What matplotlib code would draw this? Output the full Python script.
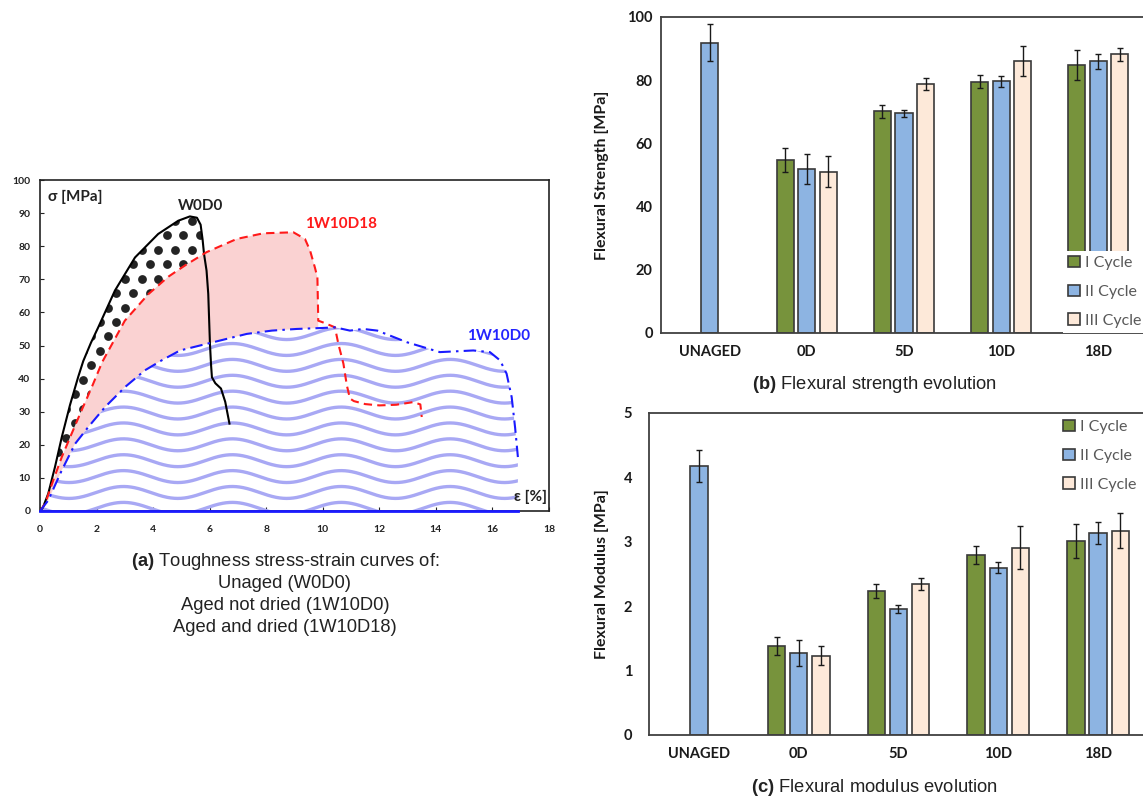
import numpy as np
import matplotlib
matplotlib.use("Agg")
import matplotlib.pyplot as plt
from matplotlib.patches import Polygon, Patch

plt.rcParams["font.family"] = ["Lato", "DejaVu Sans"]
plt.rcParams["mathtext.fontset"] = "custom"
plt.rcParams["mathtext.rm"] = "Liberation Sans"
plt.rcParams["mathtext.bf"] = "Liberation Sans:bold"

# ---- (a) stress-strain curves ----
w0d0_eps = [0, 0.1, 0.29, 0.53, 0.77, 1.06, 1.35, 1.53, 1.8, 2.06, 2.65, 3.36, 4.18, 4.89,
            5.3, 5.55, 5.68, 5.75, 5.8, 5.89, 5.95, 6.01, 6.05, 6.08, 6.2, 6.4, 6.55, 6.7]
w0d0_sig = [0, 1.0, 5.2, 13.3, 22.3, 32.0, 40.5, 45.3, 50.8, 55.5, 66.6, 76.6, 83.7, 87.7,
            89, 88.6, 86.5, 82, 77.7, 72.6, 65.6, 50.5, 44, 40.4, 38.6, 37, 33, 26.4]

d18_eps = [0, 0.18, 0.47, 0.77, 1.12, 1.47, 1.83, 2.2, 3.0, 3.83, 4.54, 5.13, 5.89, 6.96,
           7.9, 8.96, 9.37, 9.55, 9.72, 9.81, 9.84, 10.0, 10.43, 10.55, 10.73, 10.85,
           10.96, 11.1, 11.5, 12.0, 12.6, 13.2, 13.45, 13.5]
d18_sig = [0, 2.2, 9.3, 16.3, 23.4, 30.4, 37.4, 45, 57.5, 65.5, 70.8, 74.2, 78.2, 82.2,
           83.9, 84.2, 82.2, 78.7, 73.6, 70.6, 57.5, 57, 55.5, 50.5, 44.5, 38,
           34, 33.2, 32.3, 31.9, 32.1, 32.9, 32.2, 28.4]

d0_eps = [0, 0.29, 0.77, 1.24, 1.71, 2.3, 3.0, 3.71, 4.3, 4.95, 6.13, 7.31, 8.2, 9.08,
          10.0, 10.43, 10.96, 11.43, 11.93, 12.97, 14.14, 15.32, 15.91, 16.27, 16.5,
          16.68, 16.8, 16.9]
d0_sig = [0, 3.2, 12.3, 20.3, 25.4, 31.4, 37.4, 42.5, 45.5, 48.5, 51, 53.5, 54.5, 55,
          55.3, 55.5, 54.5, 55, 54.5, 51, 48, 48.5, 48, 45.5, 41.5,
          34.4, 25.3, 16.3]

# ---- (b), (c) bar data ----
categories = ["UNAGED", "0D", "5D", "10D", "18D"]
cycles = ["I Cycle", "II Cycle", "III Cycle"]
nan = np.nan
strength_I = [nan, 54.7, 70.1, 79.5, 84.7]
strength_I_err = [nan, 3.8, 2.2, 2.1, 4.7]
strength_II = [91.9, 51.8, 69.5, 79.6, 86.0]
strength_II_err = [5.8, 4.8, 1.0, 1.65, 2.35]
strength_III = [nan, 51.1, 78.7, 86.2, 88.2]
strength_III_err = [nan, 5.0, 1.95, 4.75, 2.0]

modulus_I = [nan, 1.38, 2.23, 2.79, 3.01]
modulus_I_err = [nan, 0.14, 0.11, 0.14, 0.265]
modulus_II = [4.18, 1.27, 1.96, 2.60, 3.13]
modulus_II_err = [0.25, 0.2, 0.06, 0.085, 0.17]
modulus_III = [nan, 1.23, 2.34, 2.91, 3.17]
modulus_III_err = [nan, 0.15, 0.095, 0.34, 0.27]

bar_colors = ["#77933C", "#8DB4E2", "#FDE9D9"]
edge = "#3a3a3a"
W, H = 1143, 800

fig = plt.figure(figsize=(11.43, 8), dpi=100)


def box(l, t, r, b):
    return [l / W, 1 - b / H, (r - l) / W, (b - t) / H]


# ================= panel (a) =================
ax = fig.add_axes(box(40, 180, 549, 511))
ax.set_xlim(0, 18)
ax.set_ylim(0, 100)

e0, s0 = np.array(w0d0_eps), np.array(w0d0_sig)
e18, s18 = np.array(d18_eps), np.array(d18_sig)
eb, sb = np.array(d0_eps), np.array(d0_sig)

# pink region between 1W10D18 and 1W10D0 (up to the red drop)
drop = 9.84
m18 = e18 <= drop
mb = eb < drop
lower = np.vstack([np.column_stack([eb[mb], sb[mb]]), [[drop, np.interp(drop, eb, sb)]]])
pink = np.vstack([np.column_stack([e18[m18], s18[m18]]), lower[::-1]])
ax.add_patch(Polygon(pink, closed=True, fc="#FAD2D2", ec="none", zorder=1))

# wavy texture under 1W10D0
under = np.vstack([np.column_stack([eb, sb]), [[eb[-1], 0]]])
clip_b = Polygon(under, closed=True, fc="none", ec="none", transform=ax.transData)
ax.add_patch(clip_b)
xx = np.linspace(0, 18, 600)
for base in np.arange(0.8, 62, 4.8):
    ln, = ax.plot(xx, base + 1.8 * np.cos(2 * np.pi * (xx - 6.8) / 3.85),
                  color="#A8A8F4", lw=2.4, zorder=2, solid_capstyle="butt")
    ln.set_clip_path(clip_b)

# dotted texture between W0D0 and 1W10D18
ipk = int(np.argmax(s0))
cross = ipk + int(np.argmax(s0[ipk:] < np.interp(e0[ipk:], e18[:12], s18[:12])))
top = np.column_stack([e0[:cross], s0[:cross]])
mr = e18 < e0[cross - 1]
dots_poly = np.vstack([top, np.column_stack([e18[mr], s18[mr]])[::-1]])
clip_d = Polygon(dots_poly, closed=True, fc="none", ec="none", transform=ax.transData)
ax.add_patch(clip_d)
gx, gy = [], []
for j, yy in enumerate(np.arange(87.7, -5, -4.37)):
    for x0 in np.arange(5.36 + 0.295 * (j % 2), -1, -0.59):
        gx.append(x0)
        gy.append(yy)
sc = ax.scatter(gx, gy, s=40, color="#242424", zorder=3, linewidths=0)
sc.set_clip_path(clip_d)

# curves
ax.plot(e0, s0, color="black", lw=1.5, zorder=5)
ax.plot(e18, s18, color="#FF1A1A", lw=1.5, ls=(0, (4, 2.5)), zorder=5)
ax.plot(eb, sb, color="#1A1AFF", lw=1.5, ls=(0, (6, 2.5, 1.2, 2.5)), zorder=5)
ax.plot([0, eb[-1]], [0, 0], color="#1A1AFF", lw=2, zorder=6, clip_on=False)

ax.set_xticks(np.arange(0, 19, 2))
ax.set_yticks(np.arange(0, 101, 10))
ax.tick_params(direction="in", length=3, width=0.8, labelsize=7.5, colors="#222222")
ax.tick_params(axis="x", pad=10)
ax.tick_params(axis="y", pad=7)
for t in ax.get_xticklabels() + ax.get_yticklabels():
    t.set_fontweight("bold")
for sp in ax.spines.values():
    sp.set_linewidth(1.2)
    sp.set_color("#222222")

lab = dict(fontsize=11, fontweight="bold", va="center", ha="center", zorder=7)
ax.text(0.3, 95, "σ [MPa]", **{**lab, "ha": "left"}, color="#222222")
ax.text(5.69, 92.2, "W0D0", color="#222222", **lab)
ax.text(10.64, 86.7, "1W10D18", color="#FF1A1A", **lab)
ax.text(16.23, 53, "1W10D0", color="#2424FF", **lab)
ax.text(17.36, 4.3, "ε [%]", color="#222222", **lab)

cap = dict(ha="center", va="center", fontsize=13.2, family="Liberation Sans", color="#222222")
fig.text(285 / W, 1 - 562 / H, r"$\mathbf{(a)}$ Toughness stress-strain curves of:", **cap)
fig.text(285 / W, 1 - 584 / H, "Unaged (W0D0)", **cap)
fig.text(285 / W, 1 - 606 / H, "Aged not dried (1W10D0)", **cap)
fig.text(285 / W, 1 - 628 / H, "Aged and dried (1W10D18)", **cap)


# ================= panels (b) and (c) =================
def bar_panel(rect, series, errs, ylim, yticks, ylabel, lab_x, ypad, leg_xy, caption, cap_y):
    bx = fig.add_axes(rect)
    x = np.arange(len(categories))
    offs = [-0.222, 0.0, 0.222]
    for k in range(3):
        v = np.array(series[k], dtype=float)
        e = np.array(errs[k], dtype=float)
        ok = ~np.isnan(v)
        bx.bar(x[ok] + offs[k], v[ok], width=0.175, color=bar_colors[k],
               edgecolor=edge, linewidth=1.2, zorder=2)
        bx.errorbar(x[ok] + offs[k], v[ok], yerr=e[ok], fmt="none", ecolor="#1a1a1a",
                    elinewidth=1.0, capsize=2, capthick=1.0, zorder=3)
    bx.set_xlim(-0.5, 4.5)
    bx.set_ylim(*ylim)
    bx.set_yticks(yticks)
    bx.set_xticks(x)
    bx.set_xticklabels(categories)
    bx.tick_params(length=0, labelsize=10.5, colors="#1a1a1a")
    bx.tick_params(axis="x", pad=9)
    bx.tick_params(axis="y", pad=ypad)
    for t in bx.get_xticklabels() + bx.get_yticklabels():
        t.set_fontweight("bold")
    for sp in bx.spines.values():
        sp.set_linewidth(1.3)
        sp.set_color("#404040")
    bx.set_ylabel(ylabel, fontsize=11.5, fontweight="bold", color="#1a1a1a")
    bx.yaxis.set_label_coords(lab_x, 0.5)
    handles = [Patch(fc=bar_colors[k], ec=edge, lw=1.2) for k in range(3)]
    leg = bx.legend(handles, cycles, loc="upper left",
                    bbox_to_anchor=(leg_xy[0] / W, 1 - leg_xy[1] / H),
                    bbox_transform=fig.transFigure, fontsize=11.5,
                    handlelength=0.75, handleheight=0.75, handletextpad=0.3,
                    labelspacing=0.9, borderpad=0.3, borderaxespad=0,
                    frameon=True, fancybox=False, framealpha=1)
    leg.get_frame().set_edgecolor("none")
    leg.get_frame().set_facecolor("white")
    leg.set_zorder(10)
    for t in leg.get_texts():
        t.set_color("#595959")
    fig.text(874 / W, 1 - cap_y / H, caption, ha="center", va="center",
             fontsize=13.2, family="Liberation Sans", color="#222222")
    return bx


bar_panel(box(661, 17, 1147, 333),
          [strength_I, strength_II, strength_III],
          [strength_I_err, strength_II_err, strength_III_err],
          (0, 100), np.arange(0, 101, 20), "Flexural Strength [MPa]", -0.107, 6,
          (1063, 251), r"$\mathbf{(b)}$ Flexural strength evolution", 385)

bar_panel(box(649, 413, 1148, 735),
          [modulus_I, modulus_II, modulus_III],
          [modulus_I_err, modulus_II_err, modulus_III_err],
          (0, 5), np.arange(0, 6, 1), "Flexural Modulus [MPa]", -0.08, 12,
          (1058, 415), r"$\mathbf{(c)}$ Flexural modulus evolution", 787)

fig.savefig("out.png", dpi=100)
